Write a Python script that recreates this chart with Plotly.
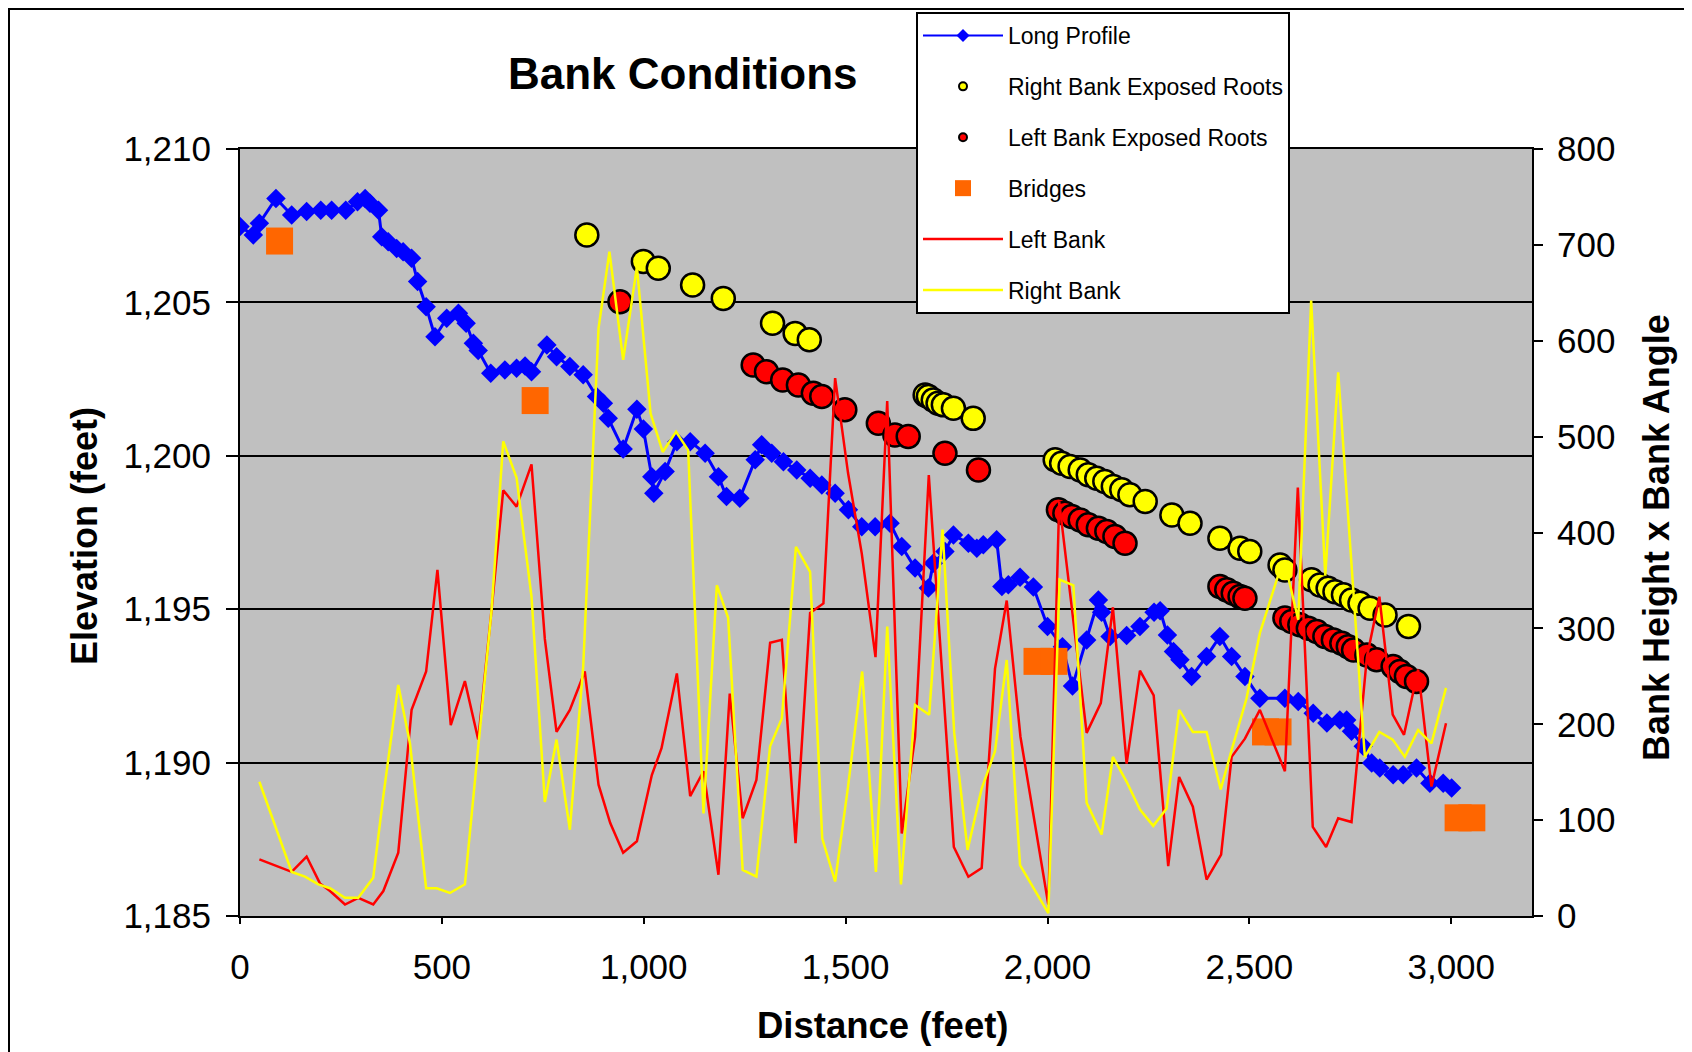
import plotly.graph_objects as go

# ---------------- data ----------------
profile_x = [0, 33, 48, 89, 128, 165, 200, 227, 262, 291, 310, 322, 343, 351, 367, 388, 404, 425, 440, 461, 483,
             512, 541, 560, 578, 590, 621, 656, 685, 706, 722, 760, 784, 817, 850, 883, 900, 912, 949, 983, 999,
             1020, 1025, 1053, 1082, 1115, 1152, 1185, 1205, 1238, 1276, 1292, 1317, 1346, 1379, 1412, 1441, 1474,
             1507, 1540, 1573, 1610, 1639, 1672, 1705, 1717, 1746, 1767, 1804, 1825, 1841, 1874, 1887, 1903, 1932,
             1965, 2000, 2037, 2062, 2097, 2126, 2134, 2155, 2196, 2229, 2264, 2279, 2297, 2312, 2328, 2357, 2394,
             2427, 2456, 2489, 2526, 2588, 2621, 2658, 2692, 2724, 2741, 2753, 2782, 2803, 2823, 2856, 2881, 2914,
             2947, 2980, 3001]
profile_elev = [1207.47, 1207.2, 1207.58, 1208.39, 1207.85, 1207.96, 1208.0, 1208.0, 1208.0, 1208.28, 1208.39,
                1208.23, 1208.0, 1207.14, 1206.98, 1206.76, 1206.65, 1206.44, 1205.68, 1204.86, 1203.88,
                1204.48, 1204.65, 1204.32, 1203.67, 1203.43, 1202.69, 1202.8, 1202.85, 1202.93, 1202.74, 1203.61,
                1203.23, 1202.91, 1202.64, 1201.93, 1201.71, 1201.22, 1200.22, 1201.52, 1200.87,
                1199.32, 1198.78, 1199.49, 1200.46, 1200.46, 1200.08, 1199.32, 1198.67, 1198.62, 1199.87, 1200.36,
                1200.08, 1199.81, 1199.54, 1199.27, 1199.05, 1198.78, 1198.24, 1197.69, 1197.69, 1197.8, 1197.04,
                1196.34, 1195.69, 1196.5, 1196.88, 1197.42, 1197.15, 1196.99, 1197.1, 1197.26, 1195.74, 1195.8,
                1196.04, 1195.72, 1194.44, 1193.78, 1192.5, 1194.0, 1195.3, 1194.9, 1194.11, 1194.14, 1194.44,
                1194.9, 1194.95, 1194.16, 1193.62, 1193.35, 1192.81, 1193.46, 1194.11, 1193.46, 1192.81, 1192.1,
                1192.1, 1191.99, 1191.61, 1191.29, 1191.39, 1191.39, 1191.02, 1190.53, 1189.99, 1189.82, 1189.6,
                1189.6, 1189.82, 1189.33, 1189.33, 1189.17]

right_roots_x = [859, 999, 1036, 1121, 1197, 1319, 1375, 1410, 1697, 1705, 1717, 1729, 1742, 1767, 1816,
                 2019, 2035, 2056, 2081, 2101, 2122, 2142, 2163, 2184, 2204, 2242, 2308, 2353, 2427, 2477, 2501,
                 2576, 2588, 2654, 2675, 2695, 2712, 2733, 2753, 2774, 2799, 2836, 2894]
right_roots_elev = [1207.2, 1206.33, 1206.11, 1205.57, 1205.13, 1204.32, 1203.99, 1203.78, 1201.98, 1201.93,
                    1201.82, 1201.71, 1201.66, 1201.55, 1201.22, 1199.87, 1199.76, 1199.65, 1199.54, 1199.38,
                    1199.27, 1199.16, 1199.0, 1198.89, 1198.73, 1198.51, 1198.07, 1197.8, 1197.31, 1196.99,
                    1196.88, 1196.44, 1196.28, 1195.96, 1195.79, 1195.68, 1195.57, 1195.47, 1195.3, 1195.19,
                    1195.03, 1194.81, 1194.44]

left_roots_x = [941, 1271, 1304, 1344, 1383, 1420, 1441, 1498, 1581, 1622, 1655, 1746, 1829,
                2027, 2043, 2060, 2081, 2101, 2126, 2147, 2167, 2192, 2427, 2444, 2460, 2477, 2489,
                2588, 2605, 2625, 2646, 2667, 2687, 2708, 2729, 2745, 2758, 2791, 2815, 2856, 2873, 2889, 2914]
left_roots_elev = [1205.02, 1202.96, 1202.74, 1202.47, 1202.31, 1202.04, 1201.93, 1201.5, 1201.06, 1200.68,
                   1200.63, 1200.08, 1199.54, 1198.24, 1198.13, 1198.02, 1197.91, 1197.75, 1197.64, 1197.53,
                   1197.37, 1197.15, 1195.74, 1195.63, 1195.52, 1195.41, 1195.36, 1194.71, 1194.6, 1194.49,
                   1194.38, 1194.27, 1194.11, 1194.0, 1193.89, 1193.78, 1193.67, 1193.51, 1193.35, 1193.13,
                   1192.97, 1192.81, 1192.64]

bridge_x = [98, 731, 1974, 2016, 2540, 2571, 3017, 3051]
bridge_elev = [1207.0, 1201.8, 1193.3, 1193.3, 1191.0, 1191.0, 1188.2, 1188.2]

left_bank_x = [48, 128, 165, 198, 223, 260, 293, 330, 355, 392, 425, 461, 489, 522, 557, 590, 623, 652, 685,
               722, 755, 784, 817, 854, 888, 917, 949, 983, 1020, 1044, 1082, 1115, 1148, 1185, 1213, 1245,
               1279, 1313, 1342, 1376, 1412, 1445, 1474, 1506, 1540, 1574, 1603, 1639, 1672, 1706, 1768, 1804,
               1837, 1870, 1899, 1933, 2002, 2029, 2097, 2132, 2162, 2196, 2229, 2263, 2299, 2326, 2360, 2394,
               2430, 2456, 2489, 2526, 2588, 2620, 2657, 2690, 2720, 2753, 2791, 2822, 2855, 2883, 2918, 2951,
               2987]
left_bank_val = [59, 46, 62, 34, 26, 12, 19, 12, 26, 66, 215, 255, 361, 199, 245, 184, 319, 444, 427,
                 471, 289, 192, 215, 255, 137, 97, 66, 78, 147, 175, 253, 125, 151, 43, 232, 102,
                 142, 285, 288, 76, 316, 326, 561, 462, 378, 270, 537, 86, 187, 460, 72, 41,
                 50, 258, 329, 187, 12, 432, 191, 222, 322, 159, 256, 230, 52, 145, 114, 38,
                 64, 166, 185, 215, 151, 447, 93, 72, 102, 98, 270, 333, 210, 189, 257, 135,
                 201]

right_bank_x = [48, 128, 161, 194, 223, 260, 293, 330, 355, 392, 421, 461, 487, 520, 557, 590, 623, 652, 685,
                722, 755, 784, 817, 850, 888, 915, 949, 983, 1017, 1047, 1080, 1110, 1148, 1181, 1209, 1245,
                1279, 1313, 1342, 1377, 1412, 1442, 1474, 1506, 1541, 1575, 1603, 1637, 1672, 1707, 1740, 1769,
                1802, 1837, 1870, 1899, 1932, 2002, 2030, 2064, 2097, 2134, 2162, 2196, 2229, 2262, 2295, 2326,
                2360, 2394, 2429, 2456, 2493, 2526, 2571, 2588, 2621, 2653, 2688, 2720, 2786, 2822, 2855, 2885,
                2918, 2951, 2987]
right_bank_val = [140, 46, 41, 33, 29, 19, 19, 40, 125, 241, 180, 29, 29, 24, 33, 173, 319, 495, 457,
                  333, 119, 184, 90, 260, 613, 693, 580, 677, 524, 484, 505, 486, 107, 345, 311, 48,
                  41, 177, 206, 385, 359, 81, 36, 135, 255, 46, 302, 33, 220, 210, 403, 191,
                  69, 133, 172, 267, 53, 3, 351, 345, 118, 85, 166, 140, 111, 94, 112, 215,
                  192, 192, 132, 173, 227, 295, 355, 368, 309, 642, 355, 567, 166, 192, 184, 166,
                  194, 180, 238]

x_ticks = [0, 500, 1000, 1500, 2000, 2500, 3000]
elev_ticks = [1185, 1190, 1195, 1200, 1205, 1210]
bank_ticks = [0, 100, 200, 300, 400, 500, 600, 700, 800]

# ---------------- figure ----------------
FONT = "Liberation Sans, Arial, sans-serif"
BLUE = "#0000FF"
RED = "#FF0000"
YELLOW = "#FFFF00"
ORANGE = "#FF6600"

fig = go.Figure()

fig.add_trace(go.Scatter(x=profile_x, y=profile_elev, mode="lines+markers", name="Long Profile",
                         line=dict(color=BLUE, width=3),
                         marker=dict(symbol="diamond", size=15, color=BLUE),
                         showlegend=False, yaxis="y"))
fig.add_trace(go.Scatter(x=right_roots_x, y=right_roots_elev, mode="markers", name="Right Bank Exposed Roots",
                         marker=dict(symbol="circle", size=23, color=YELLOW, line=dict(color="black", width=2.5)),
                         showlegend=False, yaxis="y"))
fig.add_trace(go.Scatter(x=left_roots_x, y=left_roots_elev, mode="markers", name="Left Bank Exposed Roots",
                         marker=dict(symbol="circle", size=23, color=RED, line=dict(color="black", width=2.5)),
                         showlegend=False, yaxis="y"))
fig.add_trace(go.Scatter(x=bridge_x, y=bridge_elev, mode="markers", name="Bridges",
                         marker=dict(symbol="square", size=27, color=ORANGE),
                         showlegend=False, yaxis="y"))
fig.add_trace(go.Scatter(x=left_bank_x, y=left_bank_val, mode="lines", name="Left Bank",
                         line=dict(color=RED, width=2.5), showlegend=False, yaxis="y2"))
fig.add_trace(go.Scatter(x=right_bank_x, y=right_bank_val, mode="lines", name="Right Bank",
                         line=dict(color=YELLOW, width=2.5), showlegend=False, yaxis="y2"))

# legend entries (no data; just legend symbols)
legend_specs = [
    ("Long Profile", dict(mode="lines+markers", line=dict(color=BLUE, width=2),
                          marker=dict(symbol="diamond", size=10, color=BLUE))),
    ("Right Bank Exposed Roots", dict(mode="markers",
                                      marker=dict(symbol="circle", size=8, color=YELLOW,
                                                  line=dict(color="black", width=2)))),
    ("Left Bank Exposed Roots", dict(mode="markers",
                                     marker=dict(symbol="circle", size=8, color=RED,
                                                 line=dict(color="black", width=2)))),
    ("Bridges", dict(mode="markers", marker=dict(symbol="square", size=16, color=ORANGE))),
    ("Left Bank", dict(mode="lines", line=dict(color=RED, width=2.5))),
    ("Right Bank", dict(mode="lines", line=dict(color=YELLOW, width=2.5))),
]
for i, (nm, spec) in enumerate(legend_specs):
    fig.add_trace(go.Scatter(x=[None], y=[None], name=nm, legendgroup=f"g{i}", showlegend=True, **spec))

# The page body adds an 8px margin, so the figure is drawn 8px smaller and positions
# below are given in screenshot pixels, converted with the offset.
OFF = 8
W, H = 1692 - OFF, 1052 - OFF
PLOT_L, PLOT_R, PLOT_T, PLOT_B = 240 - OFF, 1532 - OFF, 149 - OFF, 916 - OFF
L, R, T, B = PLOT_L, W - PLOT_R, PLOT_T, H - PLOT_B
PW, PH = PLOT_R - PLOT_L, PLOT_B - PLOT_T


def px(xs):
    return (xs - OFF - PLOT_L) / PW


def py(ys):
    return (PLOT_B - (ys - OFF)) / PH


def cy(ys):
    # container-referenced y (0 bottom, 1 top of figure)
    return (H - (ys - OFF)) / H


fig.update_layout(
    width=W, height=H,
    margin=dict(l=L, r=R, t=T, b=B, pad=0, autoexpand=False),
    paper_bgcolor="white",
    plot_bgcolor="#C0C0C0",
    font=dict(family=FONT, color="black", size=35),
    xaxis=dict(range=[0, 3200], tickvals=x_ticks, tickformat=",", showgrid=False, zeroline=False,
               showline=True, linecolor="black", linewidth=2, mirror=True,
               ticks="outside", ticklen=6, tickwidth=2, tickcolor="black",
               tickfont=dict(size=35), ticklabelstandoff=13),
    yaxis=dict(range=[1185, 1210], tickvals=elev_ticks, tickformat=",", showgrid=True, gridcolor="black",
               gridwidth=2, zeroline=False, showline=True, linecolor="black", linewidth=2,
               ticks="outside", ticklen=12, tickwidth=2, tickcolor="black",
               tickfont=dict(size=35), ticklabelstandoff=8),
    yaxis2=dict(range=[0, 800], tickvals=bank_ticks, overlaying="y", side="right", showgrid=False,
                zeroline=False, showline=True, linecolor="black", linewidth=2,
                ticks="outside", ticklen=9, tickwidth=2, tickcolor="black",
                tickfont=dict(size=35), ticklabelstandoff=7),
    showlegend=True,
    legend=dict(x=px(916), y=cy(12), xref="paper", yref="container", xanchor="left", yanchor="top",
                bgcolor="white", bordercolor="black", borderwidth=2,
                font=dict(family=FONT, size=23, color="black"),
                traceorder="grouped", tracegroupgap=18, itemwidth=80, itemsizing="trace"),
    annotations=[
        dict(text="<b>Bank Conditions</b>", x=px(683), y=py(73), xref="paper", yref="paper",
             showarrow=False, xanchor="center", yanchor="middle", font=dict(size=44, family=FONT)),
        dict(text="<b>Distance (feet)</b>", x=px(883), y=py(1025), xref="paper", yref="paper",
             showarrow=False, xanchor="center", yanchor="middle", font=dict(size=36.5, family=FONT)),
        dict(text="<b>Elevation (feet)</b>", x=px(84), y=py(536), xref="paper", yref="paper",
             showarrow=False, xanchor="center", yanchor="middle", textangle=-90,
             font=dict(size=36, family=FONT)),
        dict(text="<b>Bank Height x Bank Angle</b>", x=px(1656), y=py(538), xref="paper", yref="paper",
             showarrow=False, xanchor="center", yanchor="middle", textangle=-90,
             font=dict(size=36, family=FONT)),
    ],
    shapes=[
        dict(type="rect", xref="paper", yref="paper", x0=px(9), x1=px(1760), y0=py(1120), y1=py(9),
             line=dict(color="black", width=2), fillcolor="rgba(0,0,0,0)", layer="below"),
    ],
)

fig.write_html("out.html")
